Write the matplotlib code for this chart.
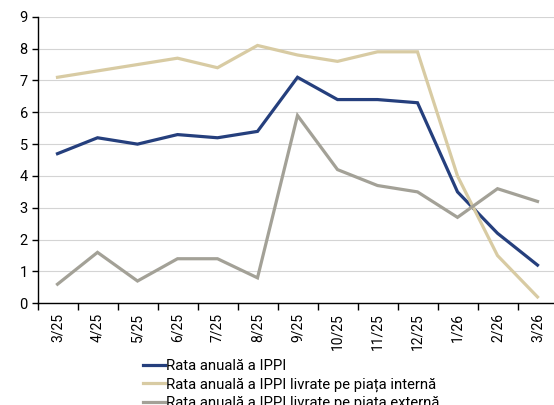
import numpy as np
import matplotlib
matplotlib.use("Agg")
import matplotlib.pyplot as plt
from matplotlib.ticker import FixedLocator

plt.rcParams['font.family'] = ['Roboto', 'DejaVu Sans']

# data
months = ['3/25', '4/25', '5/25', '6/25', '7/25', '8/25', '9/25',
          '10/25', '11/25', '12/25', '1/26', '2/26', '3/26']
ippi = [4.7, 5.2, 5.0, 5.3, 5.2, 5.4, 7.1, 6.4, 6.4, 6.3, 3.5, 2.2, 1.2]
ippi_intern = [7.1, 7.3, 7.5, 7.7, 7.4, 8.1, 7.8, 7.6, 7.9, 7.9, 4.0, 1.5, 0.2]
ippi_extern = [0.6, 1.6, 0.7, 1.4, 1.4, 0.8, 5.9, 4.2, 3.7, 3.5, 2.7, 3.6, 3.2]

names = ['Rata anuală a IPPI',
         'Rata anuală a IPPI livrate pe piața internă',
         'Rata anuală a IPPI livrate pe piața externă']
colors = ['#253F7D', '#D8CBA3', '#A3A197']

W, H = 554, 405
fig = plt.figure(figsize=(W / 100, H / 100), dpi=100)
ax = fig.add_axes([37.5 / W, (H - 303.3) / H, 520 / W, 286.5 / H])

x = np.arange(len(months))
for y, c, n in zip([ippi, ippi_intern, ippi_extern], colors, names):
    ax.plot(x, y, color=c, lw=2.3, label=n, solid_joinstyle='miter')

ax.set_xlim(-0.5, len(months) - 0.5)
ax.set_ylim(0, 9)
ax.set_yticks(range(10))
ax.yaxis.grid(True, color='#d4d4d4', lw=0.8)
ax.set_axisbelow(True)

ax.set_xticks(x)
ax.set_xticklabels(months, rotation=90)
ax.xaxis.set_minor_locator(FixedLocator(np.arange(-0.5, len(months), 1)))
ax.tick_params(axis='x', which='major', length=0, pad=7, labelsize=10)
ax.tick_params(axis='x', which='minor', length=5, width=1, color='black')
ax.tick_params(axis='y', length=4, width=1, labelsize=10.5, pad=3)

for s in ['top', 'right']:
    ax.spines[s].set_visible(False)
for s in ['left', 'bottom']:
    ax.spines[s].set_color('black')
    ax.spines[s].set_linewidth(1)

fig.legend(loc='upper left', bbox_to_anchor=(143 / W, 1 - 359 / H),
           frameon=False, fontsize=10.7, handlelength=1.45, handletextpad=0.1,
           labelspacing=0.28, borderaxespad=0, borderpad=0)

fig.savefig('out.png', dpi=100)
